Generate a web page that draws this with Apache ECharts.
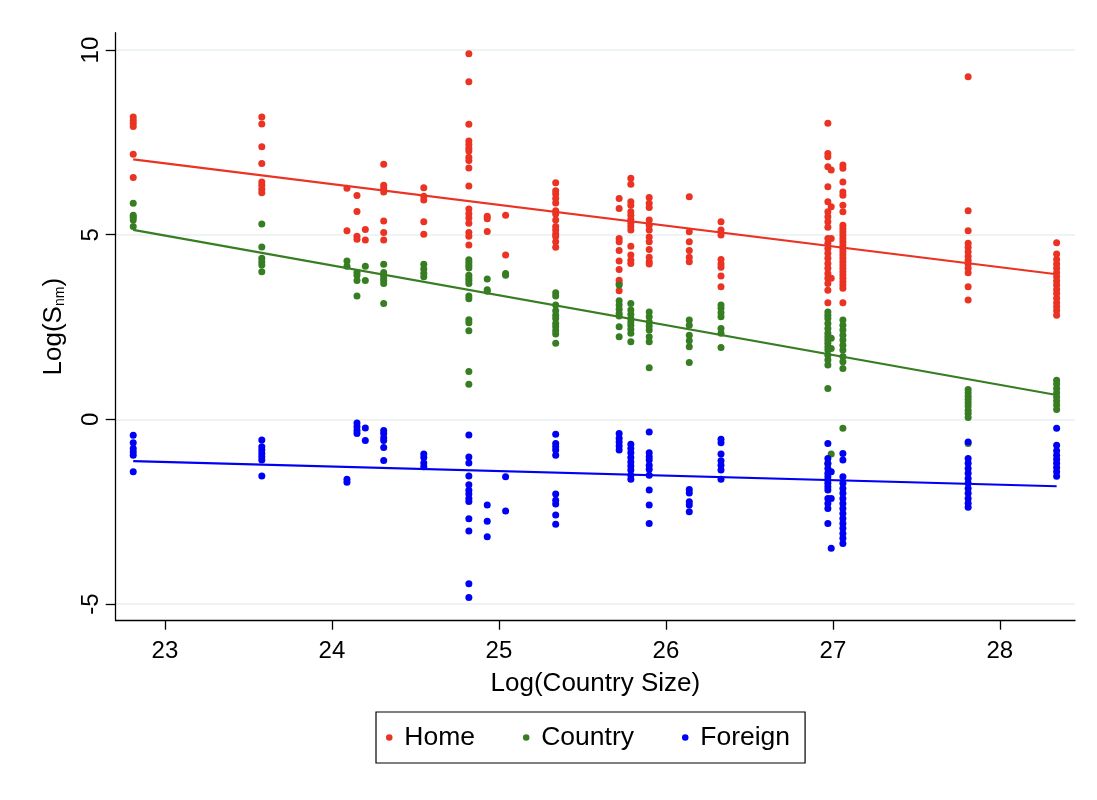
<!DOCTYPE html>
<html>
<head>
<meta charset="utf-8">
<script src="https://cdn.jsdelivr.net/npm/echarts@6/dist/echarts.min.js"></script>
<style>
  html, body { margin: 0; padding: 0; background: #ffffff; }
  #chart { width: 1097px; height: 800px; }
</style>
</head>
<body>
<div id="chart"></div>
<script>
// ---- data ----
const xCols = [22.81, 23.58, 24.09, 24.15, 24.20, 24.31, 24.55, 24.82, 24.93, 25.04,
               25.34, 25.72, 25.79, 25.90, 26.14, 26.33, 26.97, 26.99, 27.06, 27.81, 28.34];

const homeY = [
  [8.19, 8.10, 8.02, 7.93, 7.18, 6.55],
  [8.19, 8.00, 7.38, 6.93, 6.43, 6.34, 6.23, 6.14],
  [6.26, 5.11],
  [6.06, 5.63, 4.96, 4.88],
  [5.14, 4.86],
  [6.91, 6.34, 6.26, 6.16, 5.37, 5.06, 4.86],
  [6.27, 6.04, 5.94, 5.35, 5.01],
  [9.90, 9.14, 7.99, 7.54, 7.44, 7.34, 7.27, 7.10, 7.01, 6.81, 6.32, 5.70, 5.57, 5.45, 5.31, 5.06, 4.96, 4.72],
  [5.50, 5.43, 5.09],
  [5.53, 4.45],
  [6.41, 6.19, 6.10, 5.98, 5.86, 5.65, 5.56, 5.40, 5.22, 5.13, 5.02, 4.95, 4.81, 4.66],
  [5.98, 5.71, 4.90, 4.81, 4.57, 4.29, 4.06, 3.77, 3.68, 3.48],
  [6.53, 6.37, 5.89, 5.80, 5.62, 5.53, 5.42, 5.31, 5.22, 5.13, 4.69, 4.45, 4.31, 4.22],
  [6.01, 5.85, 5.74, 5.40, 5.26, 5.13, 4.94, 4.81, 4.60, 4.39, 4.27, 4.21],
  [6.03, 5.08, 4.81, 4.57, 4.39, 4.27],
  [5.35, 5.13, 4.99, 4.33, 4.21, 4.12, 3.88, 3.59],
  [8.02, 7.20, 7.11, 6.84, 6.30, 5.89, 5.62, 5.49, 5.35, 5.20, 4.90, 4.77, 4.63, 4.50, 4.36, 4.22, 4.09, 3.95, 3.82, 3.68, 3.50, 3.16],
  [6.75, 5.76, 4.90, 3.82],
  [6.89, 6.80, 6.43, 6.16, 6.07, 5.80, 5.62, 5.26, 5.17, 5.08, 4.99, 4.90, 4.81, 4.72, 4.63, 4.54, 4.45, 4.36, 4.27, 4.18, 4.09, 4.00, 3.91, 3.82, 3.73, 3.64, 3.55, 3.16],
  [9.28, 5.65, 5.11, 4.77, 4.66, 4.54, 4.42, 4.31, 4.21, 4.09, 3.97, 3.59, 3.23],
  [4.78, 4.48, 4.33, 4.21, 4.09, 3.97, 3.86, 3.75, 3.64, 3.52, 3.41, 3.28, 3.16, 3.05, 2.94, 2.82]
];

const countryY = [
  [5.85, 5.53, 5.47, 5.40, 5.22],
  [5.29, 4.67, 4.36, 4.27, 4.18, 4.00],
  [4.29, 4.15],
  [3.98, 3.90, 3.76, 3.34],
  [4.15, 3.76],
  [4.20, 3.98, 3.90, 3.83, 3.76, 3.68, 3.14],
  [4.20, 4.07, 3.96, 3.86],
  [4.32, 4.25, 4.17, 4.10, 3.90, 3.83, 3.76, 3.68, 3.34, 3.27, 2.70, 2.62, 2.40, 1.30, 0.95],
  [3.80, 3.51, 3.47],
  [3.95, 3.90],
  [3.43, 3.34, 3.10, 2.94, 2.82, 2.73, 2.60, 2.51, 2.40, 2.31, 2.06],
  [3.64, 3.21, 3.10, 2.98, 2.87, 2.80, 2.51, 2.24],
  [3.14, 2.96, 2.85, 2.73, 2.64, 2.55, 2.44, 2.33, 2.10],
  [2.91, 2.78, 2.64, 2.53, 2.42, 2.24, 2.10, 1.40],
  [2.69, 2.55, 2.28, 2.13, 1.97, 1.54],
  [3.10, 3.01, 2.89, 2.78, 2.46, 2.33, 1.95],
  [2.91, 2.82, 2.73, 2.60, 2.46, 2.33, 2.24, 2.15, 2.06, 1.97, 1.88, 1.74, 1.61, 1.47, 0.84, -1.21],
  [2.20, 1.92, -0.94],
  [2.69, 2.55, 2.42, 2.28, 2.15, 2.01, 1.88, 1.70, 1.56, 1.38, -0.24],
  [0.81, 0.72, 0.63, 0.54, 0.45, 0.36, 0.25, 0.16, 0.05, -0.65],
  [1.06, 0.96, 0.84, 0.72, 0.61, 0.50, 0.39, 0.27]
];

const foreignY = [
  [-0.43, -0.63, -0.79, -0.88, -0.97, -1.42],
  [-0.56, -0.74, -0.83, -0.92, -1.01, -1.10, -1.53],
  [-1.62, -1.70],
  [-0.10, -0.20, -0.30, -0.38],
  [-0.23, -0.57],
  [-0.30, -0.38, -0.50, -0.57, -0.76, -1.11],
  [-0.94, -1.03, -1.18, -1.28],
  [-0.42, -1.02, -1.18, -1.53, -1.77, -1.92, -2.02, -2.14, -2.22, -2.69, -3.02, -4.45, -4.82],
  [-2.32, -2.76, -3.18],
  [-1.55, -2.48],
  [-0.40, -0.65, -0.74, -0.83, -0.97, -2.02, -2.19, -2.29, -2.59, -2.84],
  [-0.38, -0.51, -0.61, -0.72, -0.83],
  [-0.67, -0.79, -0.90, -1.03, -1.15, -1.26, -1.37, -1.51, -1.62],
  [-0.34, -0.90, -1.01, -1.10, -1.24, -1.35, -1.51, -1.91, -2.32, -2.82],
  [-1.90, -1.99, -2.23, -2.32, -2.50],
  [-0.54, -0.63, -0.94, -1.12, -1.24, -1.37, -1.62],
  [-0.65, -1.06, -1.19, -1.33, -1.46, -1.55, -1.64, -1.73, -1.82, -1.91, -2.14, -2.28, -2.41, -2.82],
  [-1.42, -2.14, -3.49],
  [-0.92, -1.10, -1.55, -1.73, -1.87, -2.00, -2.14, -2.28, -2.41, -2.55, -2.68, -2.82, -2.95, -3.09, -3.22, -3.36],
  [-0.61, -1.06, -1.19, -1.33, -1.46, -1.60, -1.73, -1.87, -2.00, -2.14, -2.27, -2.38],
  [-0.24, -0.70, -0.85, -0.97, -1.08, -1.19, -1.30, -1.42, -1.54]
];

// fitted lines (endpoints)
const homeFit    = [[22.81, 7.04], [28.34, 3.93]];
const countryFit = [[22.81, 5.13], [28.34, 0.66]];
const foreignFit = [[22.81, -1.13], [28.34, -1.81]];

const seriesNames = ['Home', 'Country', 'Foreign'];
const xTicks = [23, 24, 25, 26, 27, 28];
const yTicks = [-5, 0, 5, 10];

// ---- build ----
function toPoints(cols) {
  const out = [];
  cols.forEach((ys, i) => ys.forEach(y => out.push([xCols[i], y])));
  return out;
}

const colors = ['#ea3323', '#377d22', '#0000f5'];
const FONT = '"Liberation Sans", Arial, Helvetica, sans-serif';

const chart = echarts.init(document.getElementById('chart'), null, { renderer: 'canvas' });

const scatterStyle = (c) => ({
  type: 'scatter',
  symbol: 'circle',
  symbolSize: 7,
  itemStyle: { color: c, opacity: 1 },
  emphasis: { disabled: true },
  z: 3
});
const lineStyle = (c) => ({
  type: 'line',
  symbol: 'none',
  lineStyle: { color: c, width: 2.2 },
  emphasis: { disabled: true },
  z: 4,
  silent: true
});

chart.setOption({
  animation: false,
  backgroundColor: '#ffffff',
  textStyle: { fontFamily: FONT },
  grid: { left: 115.7, right: 22, top: 32.7, bottom: 179.3, containLabel: false },
  legend: {
    data: seriesNames,
    left: 376,
    top: 712,
    orient: 'horizontal',
    padding: [12, 15, 12, 10],
    itemGap: 48,
    itemWidth: 20,
    itemHeight: 6.5,
    icon: 'circle',
    borderColor: '#000000',
    borderWidth: 1.2,
    textStyle: { fontSize: 26.5, color: '#000000', fontFamily: FONT }
  },
  xAxis: {
    type: 'value',
    min: 22.705,
    max: 28.45,
    name: 'Log(Country Size)',
    nameLocation: 'middle',
    nameGap: 50,
    nameTextStyle: { fontSize: 26, color: '#000000', fontFamily: FONT },
    axisLine: { show: true, onZero: false, lineStyle: { color: '#000000', width: 1.3 } },
    axisTick: { show: true, length: 9, inside: false, customValues: xTicks, lineStyle: { color: '#000000', width: 1.3 } },
    axisLabel: { customValues: xTicks, fontSize: 24, color: '#000000', margin: 19, fontFamily: FONT },
    splitLine: { show: false }
  },
  yAxis: {
    type: 'value',
    min: -5.45,
    max: 10.47,
    name: 'Log(S{sub|nm})',
    nameLocation: 'middle',
    nameGap: 49,
    nameRotate: 90,
    nameTextStyle: {
      fontSize: 26, color: '#000000', fontFamily: FONT,
      rich: { sub: { fontSize: 14, color: '#000000', fontFamily: FONT, padding: [12, 0, 0, 0] } }
    },
    axisLine: { show: true, onZero: false, lineStyle: { color: '#000000', width: 1.3 } },
    axisTick: { show: true, length: 10, inside: false, customValues: yTicks, lineStyle: { color: '#000000', width: 1.3 } },
    axisLabel: { customValues: yTicks, rotate: 90, fontSize: 24, color: '#000000', margin: 12, fontFamily: FONT },
    splitLine: { show: true, lineStyle: { color: '#e9eff2', width: 1.6 } }
  },
  series: [
    Object.assign({ name: 'Home', data: toPoints(homeY) }, scatterStyle(colors[0])),
    Object.assign({ name: 'Country', data: toPoints(countryY) }, scatterStyle(colors[1])),
    Object.assign({ name: 'Foreign', data: toPoints(foreignY) }, scatterStyle(colors[2])),
    Object.assign({ name: 'Home fit', data: homeFit }, lineStyle(colors[0])),
    Object.assign({ name: 'Country fit', data: countryFit }, lineStyle(colors[1])),
    Object.assign({ name: 'Foreign fit', data: foreignFit }, lineStyle(colors[2]))
  ]
});
</script>
</body>
</html>
